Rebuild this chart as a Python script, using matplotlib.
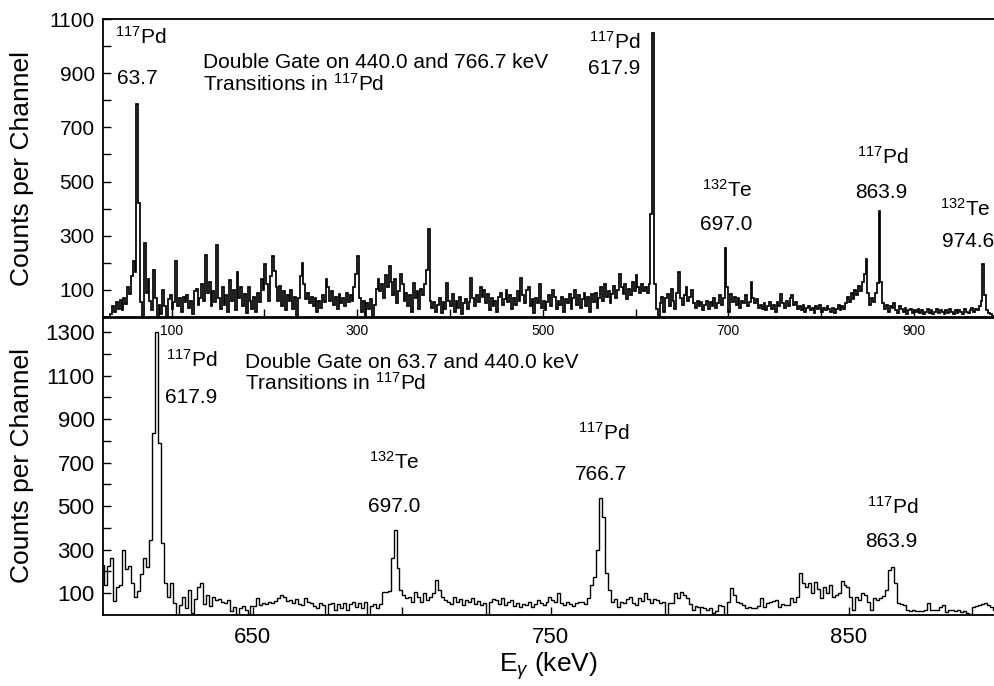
import numpy as np
import matplotlib
matplotlib.use('Agg')
import matplotlib.pyplot as plt

plt.rcParams['font.family'] = 'Liberation Sans'
plt.rcParams['mathtext.fontset'] = 'custom'
plt.rcParams['mathtext.rm'] = 'Liberation Sans'
plt.rcParams['mathtext.it'] = 'Liberation Sans:italic'
plt.rcParams['mathtext.default'] = 'regular'

# upper spectrum, 2 keV channels from 26 keV
top_start = 26
top_step = 2
top_counts = [
	0, 0, 0, 0, 12, 40, 18, 55, 30, 62, 25, 70, 48, 110, 85, 150, 205, 165, 785, 420,
	55, 0, 275, 90, 140, 60, 25, 175, 70, 0, 45, 10, 100, 40, 0, 65, 80, 30, 55, 205,
	40, 70, 20, 75, 55, 80, 35, 60, 10, 95, 105, 45, 70, 120, 60, 230, 90, 130, 40, 95,
	55, 265, 70, 30, 110, 45, 80, 20, 135, 60, 100, 25, 165, 70, 110, 40, 85, 15, 110, 60,
	30, 75, 20, 90, 55, 140, 100, 195, 120, 60, 150, 225, 170, 110, 60, 115, 40, 95, 25, 80,
	60, 100, 30, 75, 0, 70, 150, 200, 120, 65, 90, 50, 75, 40, 70, 20, 60, 35, 80, 55,
	140, 110, 60, 95, 45, 75, 30, 85, 50, 70, 40, 90, 55, 80, 60, 110, 160, 225, 70, 20,
	60, 0, 50, 30, 65, 0, 45, 105, 140, 95, 120, 70, 155, 110, 190, 130, 80, 140, 50, 95,
	160, 120, 60, 90, 40, 80, 20, 125, 70, 95, 30, 105, 80, 120, 175, 325, 60, 35, 55, 20,
	45, 70, 15, 55, 30, 125, 60, 40, 85, 20, 60, 35, 75, 10, 50, 65, 30, 55, 145, 70,
	40, 80, 55, 110, 75, 100, 50, 85, 25, 70, 40, 60, 20, 75, 90, 45, 65, 100, 55, 80,
	30, 70, 45, 95, 60, 145, 80, 50, 100, 110, 40, 65, 15, 70, 50, 120, 35, 60, 25, 55,
	80, 40, 100, 75, 30, 60, 45, 75, 20, 65, 50, 85, 30, 70, 100, 45, 80, 35, 65, 90,
	40, 75, 20, 85, 55, 90, 35, 70, 110, 60, 120, 75, 95, 50, 85, 115, 70, 100, 160, 110,
	85, 120, 65, 105, 80, 130, 95, 155, 110, 90, 120, 95, 110, 90, 120, 380, 1050, 120, 30, 0,
	50, 75, 20, 70, 85, 40, 105, 60, 30, 90, 165, 70, 45, 80, 110, 60, 75, 100, 50, 35,
	60, 40, 55, 25, 45, 60, 30, 55, 40, 70, 35, 50, 80, 45, 70, 255, 110, 20, 85, 55,
	75, 45, 70, 35, 60, 50, 80, 40, 55, 130, 70, 50, 65, 35, 45, 30, 50, 25, 40, 55,
	30, 45, 20, 55, 40, 85, 50, 35, 60, 40, 70, 80, 45, 55, 30, 40, 25, 45, 20, 35,
	40, 25, 35, 15, 40, 30, 45, 20, 35, 25, 40, 30, 20, 35, 15, 30, 45, 25, 40, 30,
	50, 75, 55, 90, 65, 100, 80, 115, 95, 130, 160, 215, 90, 45, 70, 55, 90, 125, 390, 130,
	50, 30, 45, 20, 40, 35, 50, 25, 15, 40, 30, 20, 35, 10, 25, 30, 15, 25, 20, 30,
	15, 25, 10, 20, 30, 15, 25, 10, 20, 30, 15, 25, 20, 10, 25, 15, 30, 20, 10, 25,
	15, 25, 20, 10, 30, 20, 15, 25, 35, 20, 30, 25, 40, 60, 195, 80, 25, 15, 10, 5,
]

# lower spectrum, 1 keV channels
bot_start = 598.2
bot_step = 1
bot_counts = [
	190,
	230, 140, 225, 260, 65, 130, 140, 300, 210, 225,
	145, 85, 110, 190, 260, 220, 345, 835, 1300, 790, 330, 145, 85, 145, 55, 0,
	45, 85, 30, 115, 8, 75, 130, 145, 50, 92, 40, 85, 70, 75, 60,
	55, 70, 20, 35, 0, 30, 40, 25, 0, 40,
	40, 77, 45, 55, 50, 60, 55, 65, 80, 92,
	85, 65, 70, 55, 75, 50, 45, 80, 60, 55,
	40, 30, 55, 45, 0, 50, 55, 25, 50, 30,
	55, 25, 50, 60, 35, 55, 30, 60, 0, 40,
	50, 30, 50, 105, 108, 110, 260, 390, 215, 115,
	92, 77, 84, 60, 107, 84, 60, 100, 69, 85,
	100, 160, 115, 84, 70, 61, 50, 84, 60, 75,
	45, 70, 60, 80, 50, 65, 45, 55, 0, 60,
	75, 70, 50, 80, 45, 60, 70, 40, 55, 35,
	50, 45, 60, 35, 50, 70, 55, 45, 60, 84,
	70, 60, 100, 55, 45, 60, 50, 40, 55, 61,
	61, 50, 77, 138, 176, 299, 536, 452, 191, 115,
	61, 75, 38, 60, 55, 75, 84, 55, 48, 80,
	65, 100, 75, 55, 75, 70, 54, 60, 0, 54,
	54, 100, 80, 107, 90, 77, 50, 23, 40, 38,
	38, 30, 23, 30, 8, 20, 46, 40, 0, 60,
	123, 92, 60, 54, 45, 31, 35, 30, 31, 40,
	77, 38, 55, 61, 65, 69, 38, 50, 46, 46,
	77, 60, 84, 191, 145, 130, 145, 100, 153, 120,
	77, 130, 100, 138, 84, 90, 100, 158, 140, 130,
	84, 23, 84, 70, 103, 92, 60, 23, 77, 70,
	77, 87, 115, 207, 222, 145, 57, 50, 46, 23,
	20, 22, 20, 18, 20, 25, 54, 23, 25, 23,
	35, 46, 15, 25, 23, 20, 25, 15, 20, 10,
	0, 38, 41, 45, 50, 54, 45, 38, 23,
]

top_xticks = [100, 300, 500, 700, 900]
top_xminor = [200, 400, 600, 800]
top_yticks = [100, 300, 500, 700, 900, 1100]
top_yminor = [200, 400, 600, 800, 1000]
bot_xticks = [650, 750, 850]
bot_xminor = [700, 800]
bot_yticks = [100, 300, 500, 700, 900, 1100, 1300]
bot_yminor = [200, 400, 600, 800, 1000, 1200]

top_gate = ['Double Gate on 440.0 and 766.7 keV', 'Transitions in $^{117}$Pd']
bot_gate = ['Double Gate on 63.7 and 440.0 keV', 'Transitions in $^{117}$Pd']
top_peaks = [('$^{117}$Pd', '63.7'), ('$^{117}$Pd', '617.9'), ('$^{132}$Te', '697.0'),
	('$^{117}$Pd', '863.9'), ('$^{132}$Te', '974.6')]
bot_peaks = [('$^{117}$Pd', '617.9'), ('$^{132}$Te', '697.0'), ('$^{117}$Pd', '766.7'),
	('$^{117}$Pd', '863.9')]

fig = plt.figure(figsize=(9.94, 6.86), dpi=100)
ax1 = fig.add_axes([0.1036, 0.5379, 0.8964, 0.4344])
ax2 = fig.add_axes([0.1036, 0.1035, 0.8964, 0.4344])
ax2.set_facecolor('none')
ax1.set_zorder(2)
ax1.set_facecolor('none')

top_edges = top_start + top_step * np.arange(len(top_counts) + 1)
bot_edges = bot_start + bot_step * np.arange(len(bot_counts) + 1)
ax1.stairs(top_counts, top_edges, color='black', lw=1.25)
ax2.stairs(bot_counts, bot_edges, color='black', lw=1.0)

ax1.set_xlim(26, 986.4)
ax1.set_ylim(0, 1100)
ax2.set_xlim(599.7, 898.7)
ax2.set_ylim(0, 1370)

ax1.set_xticks(top_xticks)
ax1.set_xticks(top_xminor, minor=True)
ax1.set_yticks(top_yticks)
ax1.set_yticks(top_yminor, minor=True)
ax2.set_xticks(bot_xticks)
ax2.set_xticks(bot_xminor, minor=True)
ax2.set_yticks(bot_yticks)
ax2.set_yticks(bot_yminor, minor=True)

for ax in (ax1, ax2):
	ax.tick_params(which='both', direction='in', length=6, width=1.0)
	ax.spines['right'].set_visible(False)
	for s in ('left', 'bottom', 'top'):
		ax.spines[s].set_linewidth(1.3)
ax2.spines['top'].set_visible(False)
ax1.spines['bottom'].set_linewidth(2.0)

ax1.tick_params(axis='x', labelsize=10, pad=5)
ax1.tick_params(axis='y', labelsize=15, pad=6)
ax2.tick_params(axis='x', labelsize=16, pad=9)
ax2.tick_params(axis='y', labelsize=16, pad=6)

ax1.set_ylabel('Counts per Channel', fontsize=19)
ax2.set_ylabel('Counts per Channel', fontsize=19)
ax1.yaxis.set_label_coords(-0.077, 0.5)
ax2.yaxis.set_label_coords(-0.077, 0.5)
ax2.set_xlabel(r'E$_{\mathit{\gamma}}$ (keV)', fontsize=19, labelpad=1)

# peak labels: isotope above energy
top_pos = [((67, 1033), (63.2, 882)), ((577.9, 1015), (576.8, 919)), ((699, 469), (697.5, 343)),
	((866.7, 590), (864.6, 461)), ((955, 398), (958.4, 280))]
bot_pos = [((629.5, 1172), (629.2, 1002)), ((697.6, 703), (697.3, 497)),
	((767.8, 837), (766.8, 644)), ((864.8, 497), (864.1, 336))]

for ax, peaks, pos in ((ax1, top_peaks, top_pos), (ax2, bot_peaks, bot_pos)):
	for (iso, en), (p1, p2) in zip(peaks, pos):
		ax.text(p1[0], p1[1], iso, fontsize=15, ha='center', va='center')
		ax.text(p2[0], p2[1], en, fontsize=15, ha='center', va='center')

ax1.text(133.8, 941, top_gate[0], fontsize=15, ha='left', va='center')
ax1.text(133.8, 860, top_gate[1], fontsize=15, ha='left', va='center')
ax2.text(647.4, 1163, bot_gate[0], fontsize=15, ha='left', va='center')
ax2.text(647.4, 1066, bot_gate[1], fontsize=15, ha='left', va='center')

fig.savefig('out.png', dpi=100)
